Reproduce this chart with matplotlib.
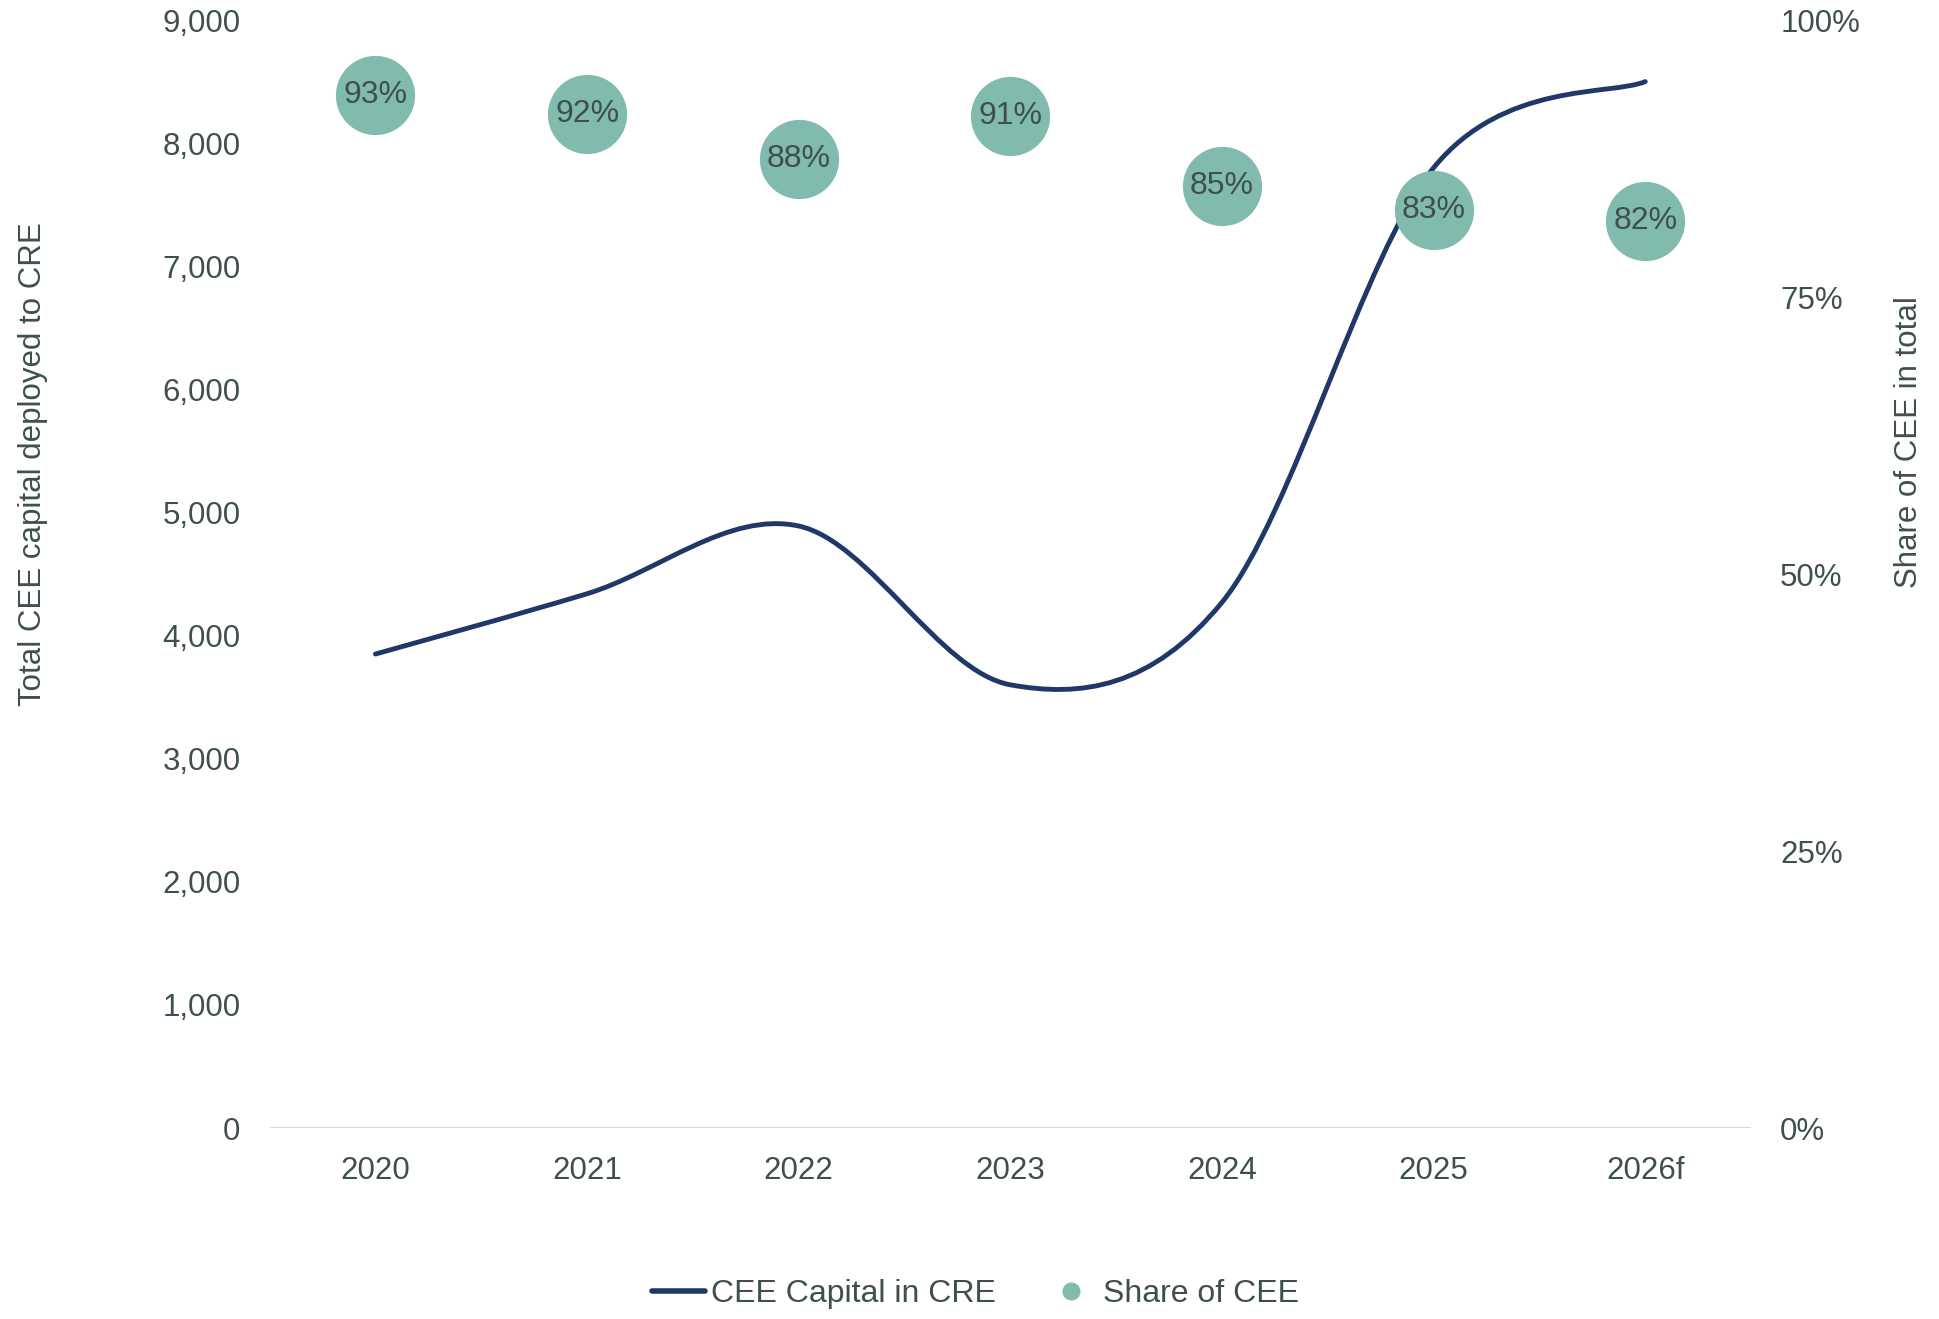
import matplotlib
matplotlib.use("Agg")
from matplotlib import pyplot as plt
from matplotlib.path import Path
from matplotlib.patches import PathPatch
from matplotlib.lines import Line2D
from matplotlib.ticker import FuncFormatter, MultipleLocator

years = ["2020", "2021", "2022", "2023", "2024", "2025", "2026f"]
capital = [3850, 4340, 4890, 3600, 4270, 7800, 8500]
share = [93.2, 91.5, 87.5, 91.3, 85.0, 82.9, 81.9]

NAVY = "#1f3868"
TEAL = "#81bbad"
TEXT = "#3f4f50"

plt.rcParams["font.family"] = ["Liberation Sans", "DejaVu Sans"]


def smooth_path(xs, ys, t=1 / 6):
    # Excel-style smoothed line: Catmull-Rom segments as cubic beziers
    n = len(xs)
    verts = [(xs[0], ys[0])]
    codes = [Path.MOVETO]
    for i in range(n - 1):
        x0, y0 = (xs[i - 1], ys[i - 1]) if i > 0 else (xs[i], ys[i])
        x1, y1 = xs[i], ys[i]
        x2, y2 = xs[i + 1], ys[i + 1]
        x3, y3 = (xs[i + 2], ys[i + 2]) if i + 2 < n else (x2, y2)
        c1 = (x1 + (x2 - x0) * t, y1 + (y2 - y0) * t)
        c2 = (x2 - (x3 - x1) * t, y2 - (y3 - y1) * t)
        verts += [c1, c2, (x2, y2)]
        codes += [Path.CURVE4] * 3
    return Path(verts, codes)


fig = plt.figure(figsize=(19.4, 13.19), dpi=100)
ax = fig.add_axes([0.139, 0.1448, 0.7636, 0.84])
ax2 = ax.twinx()

xs = list(range(len(years)))
ax.add_patch(PathPatch(smooth_path(xs, capital), facecolor="none",
                       edgecolor=NAVY, lw=3.5, capstyle="round", zorder=2))

ax2.scatter(xs, share, s=3250, color=TEAL, linewidths=0, zorder=3)
for x, v in zip(xs, share):
    ax2.text(x, v, f"{round(v):d}%", ha="center", va="center",
             fontsize=23, color=TEXT, zorder=4)

ax.set_xlim(-0.5, len(years) - 0.5)
ax.set_ylim(0, 9000)
ax2.set_ylim(0, 100)
ax.yaxis.set_major_locator(MultipleLocator(1000))
ax2.yaxis.set_major_locator(MultipleLocator(25))
ax.yaxis.set_major_formatter(FuncFormatter(lambda v, p: f"{v:,.0f}"))
ax2.yaxis.set_major_formatter(FuncFormatter(lambda v, p: f"{v:.0f}%"))
ax.set_xticks(xs)
ax.set_xticklabels(years)

ax2.set_zorder(ax.get_zorder() + 1)
ax2.patch.set_visible(False)

for a in (ax, ax2):
    for s in a.spines.values():
        s.set_visible(False)
    a.tick_params(length=0, labelsize=22.5, labelcolor=TEXT)
ax.tick_params(axis="y", pad=21)
ax2.tick_params(axis="y", pad=21)
ax.tick_params(axis="x", pad=20)
ax.axhline(0, color="#d9d9d9", lw=1.5, zorder=1)

fig.text(0.017, 1 - 464 / 1319, "Total CEE capital deployed to CRE", rotation=90,
         ha="center", va="center", fontsize=22.5, color=TEXT)
fig.text(0.984, 1 - 442 / 1319, "Share of CEE in total", rotation=90,
         ha="center", va="center", fontsize=22.5, color=TEXT)

handles = [Line2D([], [], color=NAVY, lw=4, solid_capstyle="round"),
           Line2D([], [], marker="o", ls="none", color=TEAL, markersize=12)]
fig.legend(handles, ["CEE Capital in CRE", "Share of CEE"], ncol=2,
           loc="center", bbox_to_anchor=(0.503, 1 - 1294 / 1319), frameon=False,
           fontsize=23, labelcolor=TEXT, handlelength=1.65,
           handletextpad=0.2, columnspacing=1.5)

fig.savefig("out.png", dpi=100)
